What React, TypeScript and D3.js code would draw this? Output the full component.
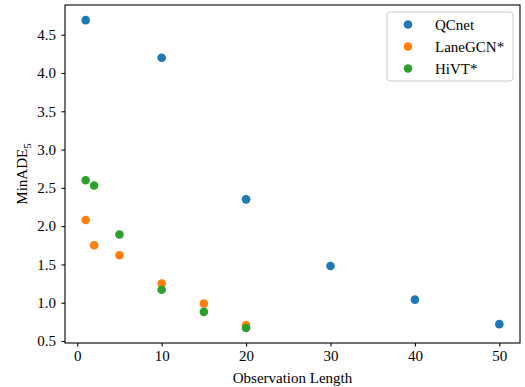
import * as d3 from "d3";
import { useEffect, useRef } from "react";

const seriesNames = ["QCnet", "LaneGCN*", "HiVT*"];
const seriesColors = ["#1f77b4", "#ff7f0e", "#2ca02c"];

const qcnetX = [1, 10, 20, 30, 40, 50];
const qcnetY = [4.69, 4.2, 2.35, 1.48, 1.04, 0.72];

const laneGcnX = [1, 2, 5, 10, 15, 20];
const laneGcnY = [2.08, 1.75, 1.62, 1.25, 0.99, 0.71];

const hivtX = [1, 2, 5, 10, 15, 20];
const hivtY = [2.6, 2.53, 1.89, 1.17, 0.88, 0.67];

const xTicks = [0, 10, 20, 30, 40, 50];
const yTicks = [0.5, 1.0, 1.5, 2.0, 2.5, 3.0, 3.5, 4.0, 4.5];

const App: React.FC = () => {
  const chartRef = useRef<HTMLDivElement | null>(null);

  useEffect(() => {
    const width = 525;
    const height = 387;
    const margin = { top: 5, right: 5, bottom: 44, left: 65 };
    const font = "'Liberation Serif', 'Times New Roman', serif";

    d3.select(chartRef.current).selectAll("*").remove();

    const svg = d3
      .select(chartRef.current)
      .append("svg")
      .attr("width", width)
      .attr("height", height)
      .style("display", "block");

    const series = [
      { xs: qcnetX, ys: qcnetY },
      { xs: laneGcnX, ys: laneGcnY },
      { xs: hivtX, ys: hivtY },
    ];

    const xScale = d3
      .scaleLinear()
      .domain([-1.45, 52.45])
      .range([margin.left, width - margin.right]);

    const yScale = d3
      .scaleLinear()
      .domain([0.474, 4.888])
      .range([height - margin.bottom, margin.top]);

    series.forEach((s, i) => {
      svg
        .append("g")
        .selectAll("circle")
        .data(s.xs.map((x, j) => [x, s.ys[j]]))
        .enter()
        .append("circle")
        .attr("cx", (d) => xScale(d[0]))
        .attr("cy", (d) => yScale(d[1]))
        .attr("r", 4.3)
        .attr("fill", seriesColors[i]);
    });

    const xAxis = svg
      .append("g")
      .attr("transform", `translate(0, ${height - margin.bottom})`)
      .call(
        d3
          .axisBottom(xScale)
          .tickValues(xTicks)
          .tickSize(3.5)
          .tickPadding(4)
          .tickFormat(d3.format("d"))
      );

    const yAxis = svg
      .append("g")
      .attr("transform", `translate(${margin.left}, 0)`)
      .call(
        d3
          .axisLeft(yScale)
          .tickValues(yTicks)
          .tickSize(3.5)
          .tickPadding(5.5)
          .tickFormat(d3.format(".1f"))
      );

    [xAxis, yAxis].forEach((ax) => {
      ax.select(".domain").remove();
      ax.selectAll("line").attr("stroke", "#000").attr("stroke-width", 1.1);
      ax.selectAll("text")
        .attr("fill", "#000")
        .style("font-family", font)
        .style("font-size", "15px");
    });

    // frame
    svg
      .append("rect")
      .attr("x", margin.left)
      .attr("y", margin.top)
      .attr("width", width - margin.left - margin.right)
      .attr("height", height - margin.top - margin.bottom)
      .attr("fill", "none")
      .attr("stroke", "#000")
      .attr("stroke-width", 1.1);

    svg
      .append("text")
      .attr("x", (margin.left + width - margin.right) / 2)
      .attr("y", 383)
      .attr("text-anchor", "middle")
      .style("font-family", font)
      .style("font-size", "15px")
      .text("Observation Length");

    const yLabel = svg
      .append("text")
      .attr("transform", `translate(27, ${(margin.top + height - margin.bottom) / 2}) rotate(-90)`)
      .attr("text-anchor", "middle")
      .style("font-family", font)
      .style("font-size", "15px");
    yLabel.append("tspan").text("MinADE");
    yLabel.append("tspan").attr("dy", 3.5).style("font-size", "11px").text("5");

    // legend
    const legend = svg.append("g").attr("transform", "translate(387, 12)");
    legend
      .append("rect")
      .attr("width", 126)
      .attr("height", 69)
      .attr("rx", 3)
      .attr("fill", "white")
      .attr("fill-opacity", 0.8)
      .attr("stroke", "#ccc")
      .attr("stroke-width", 1);

    seriesNames.forEach((name, i) => {
      const row = legend.append("g").attr("transform", `translate(0, ${12.5 + i * 22})`);
      row
        .append("circle")
        .attr("cx", 21)
        .attr("cy", 0)
        .attr("r", 4.3)
        .attr("fill", seriesColors[i]);
      row
        .append("text")
        .attr("x", 48)
        .attr("y", 0)
        .attr("dy", "0.35em")
        .style("font-family", font)
        .style("font-size", "15px")
        .text(name);
    });
  }, []);

  return (
    <div
      ref={chartRef}
      style={{ position: "absolute", left: 0, top: 0 }}
    ></div>
  );
};

export default App;
